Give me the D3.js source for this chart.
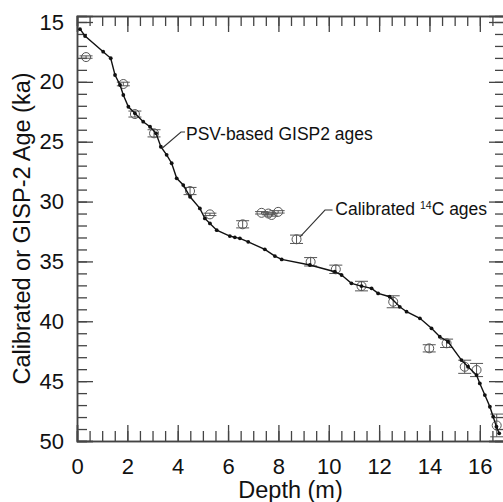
<!DOCTYPE html>
<html><head><meta charset="utf-8">
<script src="https://cdn.jsdelivr.net/npm/d3@7"></script>
<style>body{margin:0;background:#fff}svg{display:block}text{font-family:"Liberation Sans",Arial,Helvetica,sans-serif}</style>
</head><body>
<svg id="c" width="503" height="502"></svg>
<script>
// GISP2 PSV-based age model (depth m, age ka)
const gispDepth = [0.12,0.32,1.04,1.34,1.51,1.71,1.84,2.04,2.30,2.63,2.90,3.14,3.33,3.56,3.76,3.96,4.22,4.49,4.88,5.08,5.28,5.55,6.07,6.27,6.47,6.80,7.46,7.86,8.13,9.25,10.24,10.51,10.90,11.30,11.70,11.96,12.42,12.82,13.09,13.62,14.08,14.41,14.74,15.27,15.53,15.87,16.00,16.20,16.40,16.53,16.66,16.77];
const gispAge   = [15.6,16.17,17.48,18.03,19.43,20.26,21.1,22.08,22.63,23.33,23.75,24.3,25.42,26.1,26.8,28.06,28.62,29.6,30.57,31.41,31.83,32.39,32.88,32.99,33.07,33.36,33.99,34.55,34.83,35.3,35.86,36.14,36.83,37.06,37.25,37.67,37.95,38.79,39.2,39.75,40.59,41.29,41.71,43.24,43.8,44.49,45.19,46.16,47.14,47.97,48.81,49.36];
// Calibrated 14C ages (depth m, age ka, 1-sigma ka)
const c14Depth = [0.36,1.84,2.30,3.06,4.49,5.28,6.58,7.33,7.60,7.73,7.99,8.72,9.28,10.28,11.30,12.56,13.99,14.68,15.40,15.87,16.67];
const c14Age   = [17.93,20.18,22.69,24.3,29.12,31.07,31.9,30.94,31.0,31.12,30.86,33.15,35.03,35.66,37.06,38.37,42.26,41.84,43.8,44.07,48.7];
const c14Err   = [0.1,0.15,0.25,0.3,0.3,0.1,0.3,0.1,0.1,0.1,0.1,0.35,0.35,0.35,0.4,0.5,0.3,0.35,0.55,0.55,0.95];
const xMajor = [0,2,4,6,8,10,12,14,16];
const yMajor = [15,20,25,30,35,40,45,50];
const xTitle = "Depth (m)";
const yTitle = "Calibrated or GISP-2 Age (ka)";
const labelPSV = "PSV-based GISP2 ages";
const labelC14 = ["Calibrated ", "14", "C ages"];

const svg = d3.select("#c");
const x = d3.scaleLinear().domain([0,17]).range([77,505]);
const y = d3.scaleLinear().domain([14.5,50]).range([16,441]);
const axisCol = "#444";

const xMinor = d3.range(0,17.01,0.5);
const yMinor = d3.range(15,50.01,1);

function styleAxis(g){
  g.select(".domain").attr("stroke",axisCol).attr("stroke-width",1.5);
  g.selectAll(".tick line").attr("stroke",axisCol).attr("stroke-width",1.3);
  g.selectAll("text").attr("fill","#111").attr("font-size",22).attr("font-family",'"Liberation Sans",Arial,sans-serif');
}
// bottom
svg.append("g").attr("transform",`translate(0,${y(50)})`)
  .call(d3.axisBottom(x).tickValues(xMinor).tickSize(-10).tickFormat("")).call(styleAxis);
svg.append("g").attr("transform",`translate(0,${y(50)})`)
  .call(d3.axisBottom(x).tickValues(xMajor).tickSize(-16).tickPadding(17).tickFormat(d3.format("d"))).call(styleAxis);
// top
svg.append("g").attr("transform",`translate(0,${y(14.5)})`)
  .call(d3.axisTop(x).tickValues(xMinor).tickSize(-10).tickFormat("")).call(styleAxis);
svg.append("g").attr("transform",`translate(0,${y(14.5)})`)
  .call(d3.axisTop(x).tickValues(xMajor).tickSize(-16).tickFormat("")).call(styleAxis);
// left
svg.append("g").attr("transform",`translate(${x(0)},0)`)
  .call(d3.axisLeft(y).tickValues(yMinor).tickSize(-10).tickFormat("")).call(styleAxis);
svg.append("g").attr("transform",`translate(${x(0)},0)`)
  .call(d3.axisLeft(y).tickValues(yMajor).tickSize(-16).tickPadding(13).tickFormat(d3.format("d"))).call(styleAxis);
// right
svg.append("g").attr("transform",`translate(${x(17)},0)`)
  .call(d3.axisRight(y).tickValues(yMinor).tickSize(-10).tickFormat("")).call(styleAxis);
svg.append("g").attr("transform",`translate(${x(17)},0)`)
  .call(d3.axisRight(y).tickValues(yMajor).tickSize(-16).tickFormat("")).call(styleAxis);

// calibrated symbols
const c14 = c14Depth.map((d,i)=>({d, a:c14Age[i], e:c14Err[i]}));
const sym = svg.append("g").attr("stroke","#555").attr("fill","none").attr("stroke-width",1);
const sg = sym.selectAll("g").data(c14).join("g");
sg.append("circle").attr("cx",p=>x(p.d)).attr("cy",p=>y(p.a)).attr("r",4.5);
sg.append("line").attr("x1",p=>x(p.d)).attr("x2",p=>x(p.d)).attr("y1",p=>y(p.a-p.e)).attr("y2",p=>y(p.a+p.e));
sg.append("line").attr("x1",p=>x(p.d)-6.5).attr("x2",p=>x(p.d)+6.5).attr("y1",p=>y(p.a-p.e)).attr("y2",p=>y(p.a-p.e));
sg.append("line").attr("x1",p=>x(p.d)-6.5).attr("x2",p=>x(p.d)+6.5).attr("y1",p=>y(p.a+p.e)).attr("y2",p=>y(p.a+p.e));

// GISP2 curve
const gisp = gispDepth.map((d,i)=>({d, a:gispAge[i]}));
svg.append("path").datum(gisp)
  .attr("d", d3.line().x(p=>x(p.d)).y(p=>y(p.a)))
  .attr("fill","none").attr("stroke","#111").attr("stroke-width",1.4);
svg.append("g").selectAll("circle").data(gisp).join("circle")
  .attr("cx",p=>x(p.d)).attr("cy",p=>y(p.a)).attr("r",1.9).attr("fill","#111");

// annotations
const leadPSV = [[4.29,24.19],[4.13,24.19],[3.38,25.55]];
const leadC14 = [[10.15,30.71],[9.85,30.71],[8.86,32.94]];
const ln = d3.line().x(p=>x(p[0])).y(p=>y(p[1]));
svg.append("path").attr("d",ln(leadPSV)).attr("fill","none").attr("stroke","#333").attr("stroke-width",1.1);
svg.append("path").attr("d",ln(leadC14)).attr("fill","none").attr("stroke","#333").attr("stroke-width",1.1);
svg.append("text").attr("x",x(4.33)).attr("y",y(24.86)).attr("font-size",17.5).attr("fill","#111").text(labelPSV);
const t2 = svg.append("text").attr("x",x(10.26)).attr("y",y(31.1)).attr("font-size",17.5).attr("fill","#111");
t2.append("tspan").text(labelC14[0]);
t2.append("tspan").attr("font-size",10.5).attr("dy",-6).text(labelC14[1]);
t2.append("tspan").attr("dy",6).text(labelC14[2]);

// axis titles
svg.append("text").attr("x",290.5).attr("y",498).attr("text-anchor","middle").attr("font-size",23.5).attr("fill","#111").text(xTitle);
svg.append("text").attr("transform",`translate(30,${(y(14.5)+y(50))/2+ 0})rotate(-90)`).attr("text-anchor","middle").attr("font-size",23.5).attr("fill","#111").text(yTitle);
</script>
</body></html>
